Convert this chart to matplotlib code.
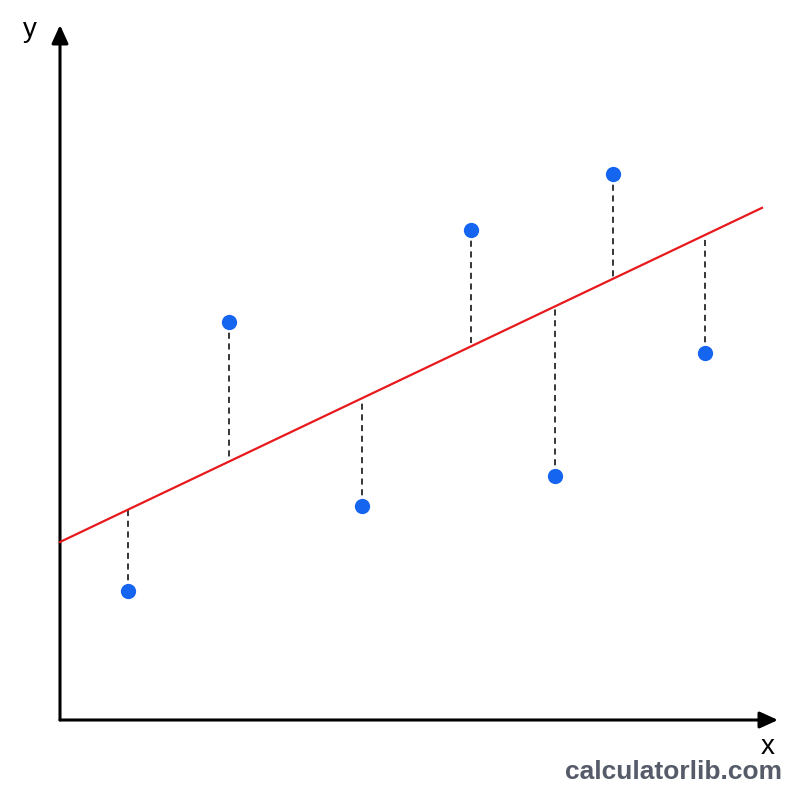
import matplotlib
matplotlib.use("Agg")
import matplotlib.pyplot as plt
import numpy as np

# data (units of the drawing)
x_pts = [0.68, 1.69, 3.02, 4.11, 4.95, 5.53, 6.45]
y_pts = [1.29, 3.98, 2.14, 4.90, 2.44, 5.46, 3.67]
line_intercept = 1.78
line_slope = 0.476
line_x_end = 7.02

fig = plt.figure(figsize=(8, 8), dpi=100)
ax = fig.add_axes([0, 0, 1, 1])
ax.set_xlim(-0.60, 7.40)
ax.set_ylim(-0.80, 7.20)
ax.axis("off")

# axes arrows
ax.annotate("", xy=(7.18, 0), xytext=(0, 0),
            arrowprops=dict(arrowstyle="-|>,head_length=1.1,head_width=0.5", lw=2.2, color="black",
                            shrinkA=0, shrinkB=0))
ax.annotate("", xy=(0, 6.95), xytext=(0, 0),
            arrowprops=dict(arrowstyle="-|>,head_length=1.1,head_width=0.5", lw=2.2, color="black",
                            shrinkA=0, shrinkB=0))
ax.text(-0.30, 6.90, "y", fontsize=20, ha="center", va="center", family="Liberation Sans")
ax.text(7.08, -0.27, "x", fontsize=20, ha="center", va="center", family="Liberation Sans")

# regression line
lx = np.array([0, line_x_end])
ax.plot(lx, line_intercept + line_slope * lx, color="#e8191c", lw=1.6, zorder=3)

# residuals
for xi, yi in zip(x_pts, y_pts):
    yl = line_intercept + line_slope * xi
    ax.plot([xi, xi], [yi, yl], color="black", lw=1.1, ls=(0, (4, 3)), zorder=2)

ax.plot(x_pts, y_pts, "o", color="#1565f0", markersize=11, zorder=4, markeredgewidth=0)

fig.text(0.978, 0.035, "calculatorlib.com", fontsize=19, fontweight="bold",
         color="#555b68", ha="right", va="center", family="Liberation Sans")

fig.savefig("out.png", dpi=100, facecolor="white")
